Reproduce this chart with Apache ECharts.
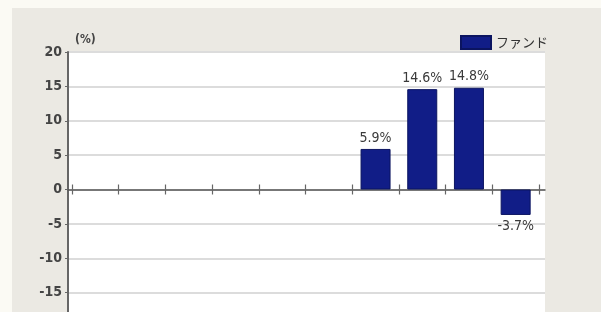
<html>
<head>
<meta http-equiv="Content-Type" content="text/html; charset=utf-8">
<script type="text/javascript" src="https://cdn.jsdelivr.net/npm/echarts@6/dist/echarts.min.js"></script>
<style>
html, body { margin: 0; padding: 0; background: #fbfaf4; }
#main { width: 601px; height: 312px; }
</style>
</head>
<body>
<div id="main"></div>
<script type="text/javascript">
// 期間（ラベルは元図に表示なし）
var categories = ['1', '2', '3', '4', '5', '6', '7', '8', '9', '10'];
var fundValues = ['-', '-', '-', '-', '-', '-', 5.9, 14.6, 14.8, -3.7];
var seriesName = 'ファンド';
var yMin = -20, yMax = 20, yStep = 5;

var numFont = '"DejaVu Sans Condensed", "DejaVu Sans", sans-serif';

var barData = fundValues.map(function (v) {
	if (v === '-') return v;
	return { value: v, label: { position: v < 0 ? 'bottom' : 'top' } };
});

var myChart = echarts.init(document.getElementById('main'));
var option = {
	backgroundColor: '#fbfaf4',
	animation: false,
	graphic: [
		{ type: 'rect', left: 12, top: 8, shape: { width: 600, height: 320 }, style: { fill: '#ebe9e3' }, z: -10 }
	],
	legend: {
		data: [seriesName],
		left: 455,
		top: 30,
		icon: 'rect',
		itemWidth: 30,
		itemHeight: 13,
		textStyle: { fontFamily: '"Noto Sans CJK JP", sans-serif', fontSize: 13, color: '#333' }
	},
	grid: [
		{ left: 68, top: 52, width: 477, height: 275, outerBoundsMode: 'none', show: true, backgroundColor: '#fff', borderWidth: 0 },
		{ left: 72, top: 52, width: 467, height: 275, outerBoundsMode: 'none' }
	],
	xAxis: [
		{
			gridIndex: 0, type: 'category', data: categories,
			axisLine: { onZero: true, lineStyle: { color: '#555', width: 1.5 } },
			axisTick: { show: false }, axisLabel: { show: false }
		},
		{
			gridIndex: 1, type: 'category', data: categories, position: 'bottom',
			axisLine: { show: false, onZero: true, onZeroAxisIndex: 1 },
			axisTick: { show: true, inside: false, length: 5, lineStyle: { color: '#666', width: 1.2 } },
			axisLabel: { show: false }
		},
		{
			gridIndex: 1, type: 'category', data: categories, position: 'top',
			axisLine: { show: false, onZero: true, onZeroAxisIndex: 1 },
			axisTick: { show: true, inside: false, length: 5, lineStyle: { color: '#666', width: 1.2 } },
			axisLabel: { show: false }
		}
	],
	yAxis: [
		{
			gridIndex: 0, type: 'value', min: yMin, max: yMax, interval: yStep,
			name: '(%)', nameLocation: 'end', nameGap: 6,
			nameTextStyle: { align: 'left', padding: [0, 0, 0, 7], fontFamily: numFont, fontSize: 12, fontWeight: 'bold', color: '#444' },
			axisLine: { show: true, lineStyle: { color: '#666', width: 2 } },
			axisTick: { show: true, length: 3, lineStyle: { color: '#666' } },
			axisLabel: { margin: 6, fontFamily: numFont, fontSize: 14, fontWeight: 'bold', color: '#444' },
			splitLine: { lineStyle: { color: '#dcdcdc', width: 2 } }
		},
		{ gridIndex: 1, type: 'value', min: yMin, max: yMax, interval: yStep, show: false }
	],
	series: [
		{
			name: seriesName,
			type: 'bar',
			xAxisIndex: 1,
			yAxisIndex: 1,
			barWidth: 30,
			data: barData,
			itemStyle: { color: '#111d87', borderColor: '#0b1460', borderWidth: 1 },
			label: {
				show: true,
				distance: 4,
				formatter: '{c}%',
				fontFamily: numFont,
				fontSize: 14,
				color: '#3a3a3a'
			}
		}
	]
};
myChart.setOption(option);
</script>
</body>
</html>
